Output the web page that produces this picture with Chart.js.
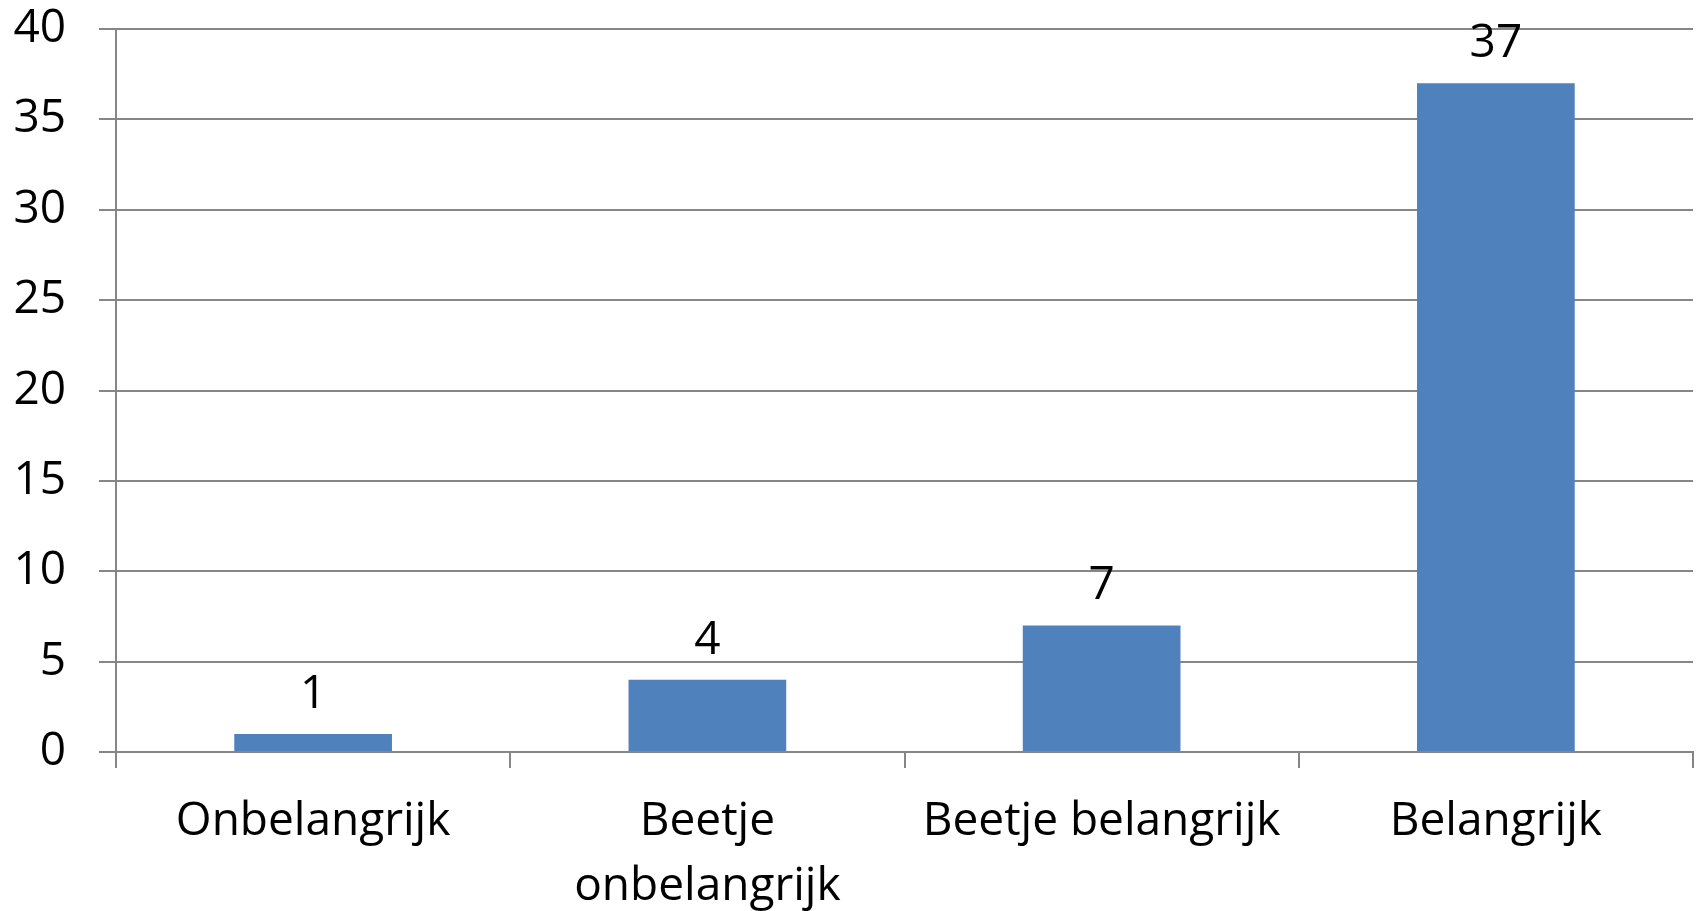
<!DOCTYPE html>
<html>
<head>
<meta charset="utf-8">
<script src="https://cdn.jsdelivr.net/npm/chart.js@4"></script>
<style>
  html, body { margin: 0; padding: 0; background: #fff; }
  #wrap { width: 1698px; height: 911px; }
</style>
</head>
<body>
<div id="wrap"><canvas id="chart" width="1698" height="911"></canvas></div>
<script>
// values
const categories = ["Onbelangrijk", ["Beetje", "onbelangrijk"], "Beetje belangrijk", "Belangrijk"];
const counts = [1, 4, 7, 37];
const yTicks = [0, 5, 10, 15, 20, 25, 30, 35, 40];

const BAR_BLUE = "#4F81BD";
const AXIS_GREY = "#868686";
const FONT = "Open Sans";
const FONT_SIZE = 46;

// draws the count above each bar
const valueLabels = {
  id: "valueLabels",
  afterDatasetsDraw(chart) {
    const ctx = chart.ctx;
    const meta = chart.getDatasetMeta(0);
    ctx.save();
    ctx.font = FONT_SIZE + "px " + FONT;
    ctx.fillStyle = "#000";
    ctx.textAlign = "center";
    ctx.textBaseline = "alphabetic";
    meta.data.forEach((bar, i) => {
      ctx.fillText(String(counts[i]), bar.x, bar.y - 26);
    });
    ctx.restore();
  },
};

new Chart(document.getElementById("chart"), {
  type: "bar",
  data: {
    labels: categories,
    datasets: [{
      data: counts,
      backgroundColor: BAR_BLUE,
      borderWidth: 0,
      categoryPercentage: 0.4,
      barPercentage: 1,
    }],
  },
  options: {
    responsive: false,
    animation: false,
    layout: { padding: { top: 29, right: 5, left: 0, bottom: 0 } },
    plugins: { legend: { display: false }, tooltip: { enabled: false } },
    scales: {
      x: {
        grid: {
          offset: true,
          drawOnChartArea: false,
          drawTicks: true,
          tickLength: 16,
          color: AXIS_GREY,
          lineWidth: 2,
        },
        border: { color: AXIS_GREY, width: 2 },
        ticks: {
          color: "#000",
          font: { family: FONT, size: FONT_SIZE, lineHeight: 1.4 },
          padding: 22,
          maxRotation: 0,
          autoSkip: false,
        },
        afterFit(scale) { scale.height = 159; },
      },
      y: {
        min: 0,
        max: 40,
        afterBuildTicks(scale) { scale.ticks = yTicks.map((v) => ({ value: v })); },
        grid: {
          color: AXIS_GREY,
          lineWidth: 2,
          tickLength: 17,
        },
        border: { color: AXIS_GREY, width: 2 },
        ticks: {
          color: "#000",
          font: { family: FONT, size: FONT_SIZE },
          padding: 33,
        },
        afterFit(scale) {
          scale.width = 116;
          scale.paddingTop = 0;
          scale.paddingBottom = 0;
        },
      },
    },
  },
  plugins: [valueLabels],
});
</script>
</body>
</html>
